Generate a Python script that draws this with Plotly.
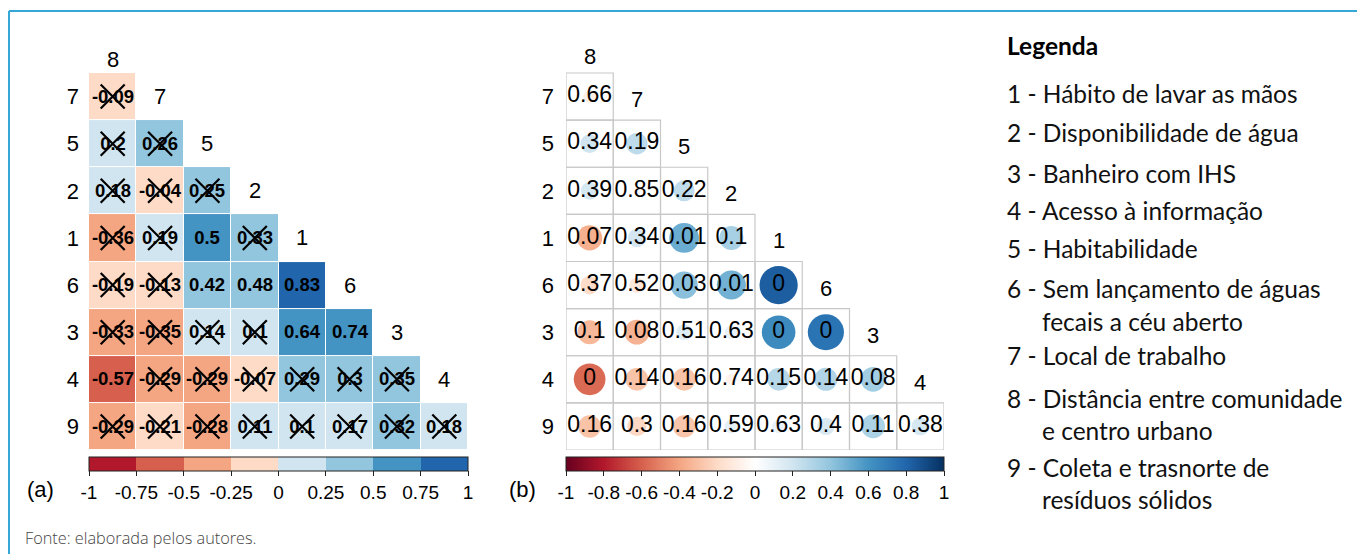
import plotly.graph_objects as go

W, H = 1357, 554


def px(x):
    return x / W


def py(y):
    return 1 - y / H


# ---------------- data ----------------
cols = ["8", "7", "5", "2", "1", "6", "3", "4"]
rows = ["7", "5", "2", "1", "6", "3", "4", "9"]

# correlation coefficients (lower triangle, row by row)
corr_7 = [-0.09]
corr_5 = [0.2, 0.26]
corr_2 = [0.18, -0.04, 0.25]
corr_1 = [-0.36, 0.19, 0.5, 0.33]
corr_6 = [-0.19, -0.13, 0.42, 0.48, 0.83]
corr_3 = [-0.33, -0.35, 0.14, 0.1, 0.64, 0.74]
corr_4 = [-0.57, -0.29, -0.29, -0.07, 0.29, 0.3, 0.35]
corr_9 = [-0.29, -0.21, -0.28, 0.11, 0.1, 0.17, 0.32, 0.18]
corr_rows = [corr_7, corr_5, corr_2, corr_1, corr_6, corr_3, corr_4, corr_9]

# p-values (lower triangle, row by row)
p_7 = [0.66]
p_5 = [0.34, 0.19]
p_2 = [0.39, 0.85, 0.22]
p_1 = [0.07, 0.34, 0.01, 0.1]
p_6 = [0.37, 0.52, 0.03, 0.01, 0]
p_3 = [0.1, 0.08, 0.51, 0.63, 0, 0]
p_4 = [0, 0.14, 0.16, 0.74, 0.15, 0.14, 0.08]
p_9 = [0.16, 0.3, 0.16, 0.59, 0.63, 0.4, 0.11, 0.38]
p_rows = [p_7, p_5, p_2, p_1, p_6, p_3, p_4, p_9]

alpha = 0.05

ticks_a = [-1, -0.75, -0.5, -0.25, 0, 0.25, 0.5, 0.75, 1]
ticks_a_text = ["-1", "-0.75", "-0.5", "-0.25", "0", "0.25", "0.5", "0.75", "1"]
ticks_b = [-1, -0.8, -0.6, -0.4, -0.2, 0, 0.2, 0.4, 0.6, 0.8, 1]
ticks_b_text = ["-1", "-0.8", "-0.6", "-0.4", "-0.2", "0", "0.2", "0.4", "0.6", "0.8", "1"]

legend_title = "Legenda"
legend_lines = [
    "1 - Hábito de lavar as mãos",
    "2 - Disponibilidade de água",
    "3 - Banheiro com IHS",
    "4 - Acesso à informação",
    "5 - Habitabilidade",
    "6 - Sem lançamento de águas",
    "fecais a céu aberto",
    "7 - Local de trabalho",
    "8 - Distância entre comunidade",
    "e centro urbano",
    "9 - Coleta e trasnorte de",
    "resíduos sólidos",
]
legend_indent = [False, False, False, False, False, False, True, False, False, True, False, True]
legend_ypx = [94, 133, 173, 211, 249, 288, 321, 355, 398, 430, 467, 500]
source_text = "Fonte: elaborada pelos autores."

# ---------------- styles ----------------
rdbu8 = ["#B2182B", "#D6604D", "#F4A582", "#FDDBC7",
         "#D1E5F0", "#92C5DE", "#4393C3", "#2166AC"]
discrete_scale = []
for k, c in enumerate(rdbu8):
    discrete_scale += [[k / 8, c], [(k + 1) / 8, c]]
rdbu11 = ["#67001F", "#B2182B", "#D6604D", "#F4A582", "#FDDBC7", "#FFFFFF",
          "#D1E5F0", "#92C5DE", "#4393C3", "#2166AC", "#053061"]
cont_scale = [[k / 10, c] for k, c in enumerate(rdbu11)]

FONT = "Liberation Sans, Arial, sans-serif"
LEGFONT = "Lato, Open Sans, sans-serif"

n = len(rows)
z = [[corr_rows[i][j] if j <= i else None for j in range(n)] for i in range(n)]
txt = [[f"{corr_rows[i][j]:g}" if j <= i else "" for j in range(n)] for i in range(n)]

xs, ys, rv, pv = [], [], [], []
for i in range(n):
    for j in range(i + 1):
        xs.append(j)
        ys.append(i)
        rv.append(corr_rows[i][j])
        pv.append(p_rows[i][j])

cx = [x for x, p in zip(xs, pv) if p > alpha]
cy = [y for y, p in zip(ys, pv) if p > alpha]

fig = go.Figure()

# ---- panel (a): heatmap ----
fig.add_trace(go.Heatmap(
    z=z, x=list(range(n)), y=list(range(n)),
    text=txt, texttemplate="%{text}",
    textfont=dict(family=FONT, size=18.5, color="black", weight="bold"),
    colorscale=discrete_scale, zmin=-1, zmax=1,
    xgap=1, ygap=1, hoverongaps=False,
    colorbar=dict(
        orientation="h", x=px(89), xanchor="left", y=py(457), yanchor="top",
        len=379, lenmode="pixels", thickness=14, thicknessmode="pixels",
        xpad=0, ypad=0, outlinewidth=1, outlinecolor="#222",
        tickmode="array", tickvals=ticks_a, ticktext=ticks_a_text,
        ticks="outside", ticklen=5, tickwidth=1, tickcolor="#222",
        tickfont=dict(family=FONT, size=19, color="black"),
    ),
    xaxis="x", yaxis="y",
))
fig.add_trace(go.Scatter(
    x=cx, y=cy, mode="markers", hoverinfo="skip", showlegend=False,
    marker=dict(symbol="x-thin", size=24, color="black",
                line=dict(width=2.2, color="black")),
    xaxis="x", yaxis="y",
))

# ---- panel (b): circles ----
fig.add_trace(go.Scatter(
    x=xs, y=ys, mode="markers", showlegend=False,
    marker=dict(
        size=[abs(r) for r in rv], sizemode="area", sizeref=2 / 42 ** 2,
        color=rv, colorscale=cont_scale, cmin=-1, cmax=1, opacity=1,
        line=dict(width=0),
        colorbar=dict(
            orientation="h", x=px(566), xanchor="left", y=py(457), yanchor="top",
            len=378, lenmode="pixels", thickness=14, thicknessmode="pixels",
            xpad=0, ypad=0, outlinewidth=1, outlinecolor="#222",
            tickmode="array", tickvals=ticks_b, ticktext=ticks_b_text,
            ticks="outside", ticklen=5, tickwidth=1, tickcolor="#222",
            tickfont=dict(family=FONT, size=19, color="black"),
        ),
    ),
    xaxis="x2", yaxis="y2",
))
fig.add_trace(go.Scatter(
    x=xs, y=ys, mode="text", text=[f"{p:g}" for p in pv],
    textfont=dict(family=FONT, size=23, color="black"),
    hoverinfo="skip", showlegend=False,
    xaxis="x2", yaxis="y2",
))

shapes = []
for x, y in zip(xs, ys):
    shapes.append(dict(type="rect", xref="x2", yref="y2",
                       x0=x - 0.5, x1=x + 0.5, y0=y - 0.5, y1=y + 0.5,
                       line=dict(color="#c8c8c8", width=1.2), layer="below"))
# frame
shapes.append(dict(type="line", xref="paper", yref="paper",
                   x0=px(9), x1=1, y0=py(11), y1=py(11),
                   line=dict(color="#35A8D8", width=2)))
shapes.append(dict(type="line", xref="paper", yref="paper",
                   x0=px(9), x1=px(9), y0=py(11), y1=0,
                   line=dict(color="#35A8D8", width=2)))

annotations = []
for xr, yr, ysh in (("x", "y", -10), ("x2", "y2", -7)):
    for k, c in enumerate(cols):
        annotations.append(dict(x=k, y=k - 1, xref=xr, yref=yr, text=c,
                                showarrow=False,
                                yshift=ysh if k == 0 else (0 if xr == "x" else -3),
                                font=dict(family=FONT, size=22, color="black")))
annotations.append(dict(x=px(25), y=py(489), xref="paper", yref="paper", text="(a)",
                        xanchor="left", yanchor="middle", showarrow=False,
                        font=dict(family=FONT, size=22, color="black")))
annotations.append(dict(x=px(507), y=py(489), xref="paper", yref="paper", text="(b)",
                        xanchor="left", yanchor="middle", showarrow=False,
                        font=dict(family=FONT, size=22, color="black")))
annotations.append(dict(x=px(1005), y=py(45), xref="paper", yref="paper",
                        text=legend_title, xanchor="left", yanchor="middle",
                        showarrow=False,
                        font=dict(family=LEGFONT, size=24.5, color="black", weight="bold")))
for line, ind, yp in zip(legend_lines, legend_indent, legend_ypx):
    annotations.append(dict(x=px(1040 if ind else 1005), y=py(yp), xref="paper", yref="paper",
                            text=line, xanchor="left", yanchor="middle", showarrow=False,
                            font=dict(family=LEGFONT, size=24.5, color="#111")))
annotations.append(dict(x=px(23), y=py(538), xref="paper", yref="paper",
                        text=source_text, xanchor="left", yanchor="middle", showarrow=False,
                        font=dict(family="Open Sans, sans-serif", size=16.3, color="#444",
                                  weight=300)))

axis_common = dict(range=[-0.5, 7.5], showgrid=False, zeroline=False,
                   showticklabels=False, ticks="", showline=False)
yaxis_common = dict(range=[7.5, -1.5], showgrid=False, zeroline=False,
                    tickmode="array", tickvals=list(range(n)), ticktext=rows,
                    ticks="", showline=False,
                    tickfont=dict(family=FONT, size=22, color="black"))

fig.update_layout(
    width=W, height=H, autosize=False,
    margin=dict(l=0, r=0, t=0, b=0, pad=0),
    paper_bgcolor="white", plot_bgcolor="rgba(0,0,0,0)",
    showlegend=False,
    xaxis=dict(domain=[px(89), px(468)], anchor="y", **axis_common),
    yaxis=dict(domain=[py(450), py(450 - 9 * 47.125)], anchor="x",
               ticklabelstandoff=9, **yaxis_common),
    xaxis2=dict(domain=[px(566), px(944)], anchor="y2", **axis_common),
    yaxis2=dict(domain=[py(450), py(450 - 9 * 47.125)], anchor="x2",
                ticklabelstandoff=11, **yaxis_common),
    shapes=shapes,
    annotations=annotations,
)

fig.write_html("out.html", config={"displayModeBar": False},
               post_script="document.body.style.margin='0';")
